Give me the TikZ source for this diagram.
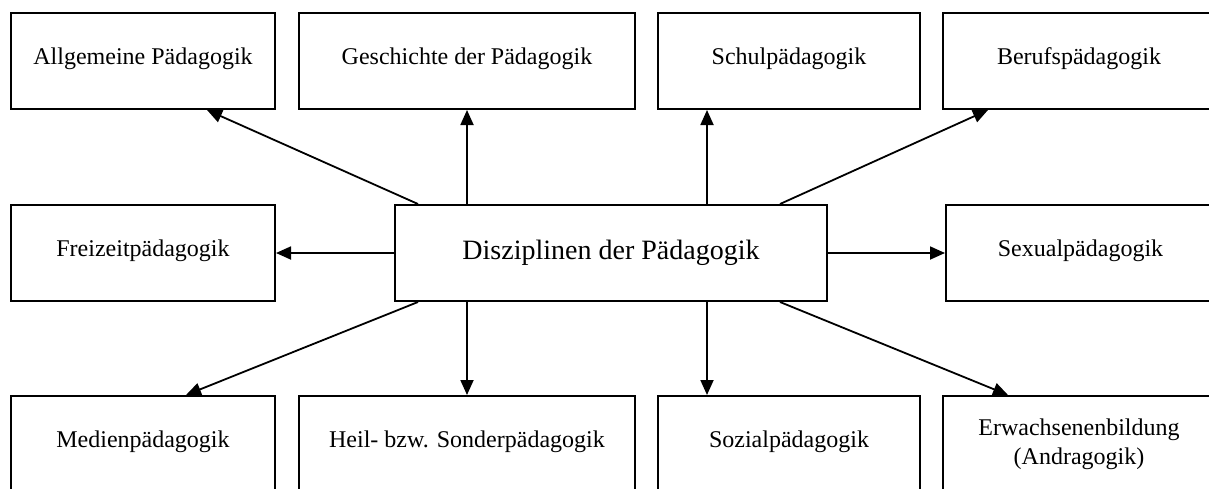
\documentclass[tikz,border=0pt]{standalone}
\usepackage{fontspec}
\setmainfont{Liberation Serif}
\usetikzlibrary{arrows.meta, positioning, calc}
\tikzset{
    paedBlock/.style={
        draw=black, fill=white, line width=1pt, align=center, inner sep=3pt,
        minimum height=48pt, font=\fontsize{12pt}{14.5pt}\selectfont
    },
    paedLine/.style={
        paedBlock, text height=8.5pt, text depth=5.5pt
    },
    paedCenter/.style={
        paedBlock, minimum width=216pt, font=\fontsize{14pt}{17pt}\selectfont
    },
    paedArrow/.style={
        -{Triangle[length=7.5pt, width=6.5pt]}, line width=0.9pt, draw=black
    }
}
\begin{document}
\begin{tikzpicture}[x=0.5pt, y=-0.5pt]
    \useasboundingbox (0,0) rectangle (1209,488);
    \clip (0,0) rectangle (1209,488);

    % -- TOP ROW
    \node[paedLine, minimum width=132pt] (allgPaed) at (143, 61) {Allgemeine Pädagogik};
    \node[paedLine, minimum width=168pt] (geschPaed) at (467, 61) {Geschichte der Pädagogik};
    \node[paedLine, minimum width=131pt] (schulPaed) at (789, 61) {Schulpädagogik};
    \node[paedLine, minimum width=136pt] (berufPaed) at (1079, 61) {Berufspädagogik};

    % -- MIDDLE ROW
    \node[paedLine, minimum width=132pt] (freizeitPaed) at (143, 253) {Freizeitpädagogik};
    \node[paedCenter] (disziplinen) at (611, 253) {Disziplinen der Pädagogik};
    \node[paedLine, minimum width=134.5pt] (sexualPaed) at (1080.5, 253) {Sexualpädagogik};

    % -- BOTTOM ROW
    \node[paedLine, minimum width=132pt] (medienPaed) at (143, 444) {Medienpädagogik};
    \node[paedLine, minimum width=168pt] (heilPaed) at (467, 444) {Heil- bzw. Sonderpädagogik};
    \node[paedLine, minimum width=131pt] (sozialPaed) at (789, 444) {Sozialpädagogik};
    \node[paedBlock, minimum width=136pt] (erwachsenen) at (1079, 444) {Erwachsenenbildung\\(Andragogik)};

    % Arrows upwards
    \draw[paedArrow] ([xshift=-96.5pt]disziplinen.north) -- ([xshift=32pt]allgPaed.south);
    \draw[paedArrow] ([xshift=-72pt]disziplinen.north) -- (geschPaed.south);
    \draw[paedArrow] ([xshift=48pt]disziplinen.north) -- ([xshift=-41pt]schulPaed.south);
    \draw[paedArrow] ([xshift=84.5pt]disziplinen.north) -- ([xshift=-45.5pt]berufPaed.south);

    % Arrows sideways
    \draw[paedArrow] (disziplinen.west) -- (freizeitPaed.east);
    \draw[paedArrow] (disziplinen.east) -- (sexualPaed.west);

    % Arrows downwards
    \draw[paedArrow] ([xshift=-96.5pt]disziplinen.south) -- ([xshift=21.5pt]medienPaed.north);
    \draw[paedArrow] ([xshift=-72pt]disziplinen.south) -- (heilPaed.north);
    \draw[paedArrow] ([xshift=48pt]disziplinen.south) -- ([xshift=-41pt]sozialPaed.north);
    \draw[paedArrow] ([xshift=84.5pt]disziplinen.south) -- ([xshift=-35.5pt]erwachsenen.north);
\end{tikzpicture}
\end{document}
